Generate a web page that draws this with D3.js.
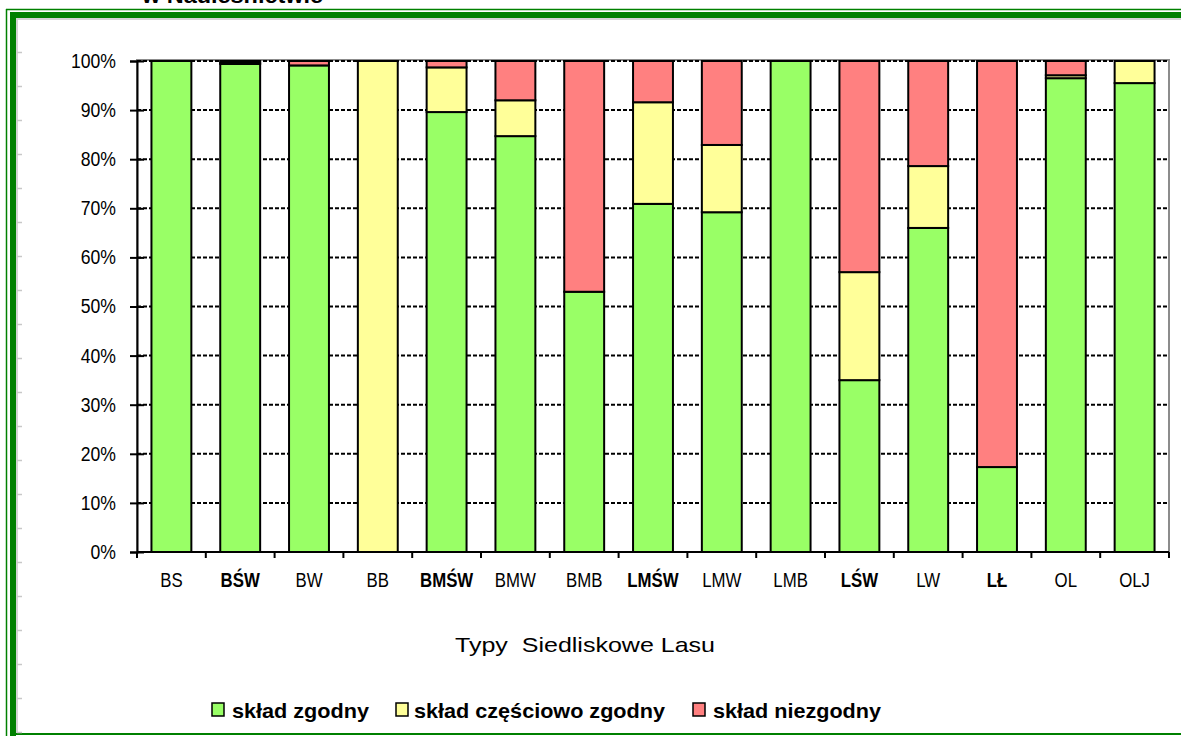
<!DOCTYPE html>
<html><head><meta charset="utf-8">
<script src="https://cdn.jsdelivr.net/npm/d3@7"></script>
<style>html,body{margin:0;padding:0;background:#fff;}svg{display:block;}</style>
</head><body>
<svg id="c" width="1181" height="736"></svg>
<script>
const categories = ["BS","BŚW","BW","BB","BMŚW","BMW","BMB","LMŚW","LMW","LMB","LŚW","LW","LŁ","OL","OLJ"];
const boldCats = ["BŚW","BMŚW","LMŚW","LŚW","LŁ"];
const zgodny     = [100, 99.4, 99.1, 0,   89.6, 84.7, 53.0, 70.9, 69.2, 100, 35.0, 66.0, 17.3, 96.5, 95.5];
const czesciowo  = [0,   0.3,  0,    100, 9.1,  7.3,  0,    20.7, 13.7, 0,   22.0, 12.6, 0,    0.6,  4.5];
const niezgodny  = [0,   0.3,  0.9,  0,   1.3,  8.0,  47.0, 8.4,  17.1, 0,   43.0, 21.4, 82.7, 2.9,  0];
const seriesNames = ["skład zgodny","skład częściowo zgodny","skład niezgodny"];
const seriesColors = ["#99FF66","#FFFF99","#FF8080"];
const yTicks = [0,10,20,30,40,50,60,70,80,90,100];
const xTitle = "Typy  Siedliskowe Lasu";
const topTitle = "w Nadleśnictwie";

const svg = d3.select("#c");
const L=137, R=1169, T=61, B=552;
const font = "'Liberation Sans', Arial, sans-serif";

function squeeze(sel, f){
  sel.each(function(){
    const w = this.getComputedTextLength();
    d3.select(this).attr("textLength", w*f).attr("lengthAdjust","spacingAndGlyphs");
  });
}
function fitTo(sel, w){
  sel.attr("textLength", w).attr("lengthAdjust","spacingAndGlyphs");
}

// frame
const green="#008000";
svg.append("line").attr("x1",6.5).attr("x2",6.5).attr("y1",9).attr("y2",736).attr("stroke",green).attr("stroke-width",1.5);
svg.append("line").attr("x1",6).attr("x2",1181).attr("y1",9.5).attr("y2",9.5).attr("stroke",green).attr("stroke-width",1.5);
svg.append("rect").attr("x",10).attr("y",12).attr("width",6).attr("height",724).attr("fill",green);
svg.append("rect").attr("x",10).attr("y",12).attr("width",1171).attr("height",6).attr("fill",green);
svg.append("rect").attr("x",16).attr("y",18).attr("width",2).attr("height",716).attr("fill","#d4d4d4");
svg.append("rect").attr("x",16).attr("y",18).attr("width",1165).attr("height",2).attr("fill","#d4d4d4");
svg.append("rect").attr("x",16).attr("y",733).attr("width",1165).attr("height",2).attr("fill",green);
for(let yy=52;yy<733;yy+=34){
  svg.append("line").attr("x1",17).attr("x2",22).attr("y1",yy+0.5).attr("y2",yy+0.5).attr("stroke","#c8c8c8").attr("stroke-width",1.5);
}
const tt = svg.append("text").attr("x",142).attr("y",3).attr("font-family",font).attr("font-weight","bold").attr("font-size",22).text(topTitle);
fitTo(tt,181);

const x = d3.scaleBand().domain(categories).range([L,R]).paddingInner(0.42).paddingOuter(0.21);
const xb = d3.scaleBand().domain(categories).range([L,R]);
const y = d3.scaleLinear().domain([0,100]).range([B,T]);

// plot area border
svg.append("rect").attr("x",L).attr("y",T-1).attr("width",R-L).attr("height",B-T+1).attr("fill","none").attr("stroke","#8c8c8c").attr("stroke-width",2);

// gridlines
svg.append("g").selectAll("line").data(yTicks.filter(d=>d>0)).join("line")
  .attr("x1",L).attr("x2",R).attr("y1",d=>y(d)).attr("y2",d=>y(d))
  .attr("stroke","#000").attr("stroke-width",2).attr("stroke-dasharray","4,2");

// stacked bars
const rows = categories.map((c,i)=>({cat:c, v:[zgodny[i],czesciowo[i],niezgodny[i]]}));
const stacked = d3.stack().keys([0,1,2]).value((d,k)=>d.v[k])(rows);
stacked.forEach((s,si)=>{
  svg.append("g").selectAll("rect").data(s.filter(d=>d[1]-d[0]>0)).join("rect")
    .attr("x",d=>x(d.data.cat)).attr("width",x.bandwidth())
    .attr("y",d=>y(d[1])).attr("height",d=>y(d[0])-y(d[1]))
    .attr("fill",seriesColors[si]).attr("stroke","#000").attr("stroke-width",2);
});

// y axis
const ya = svg.append("g").attr("transform",`translate(${L},0)`)
  .call(d3.axisLeft(y).tickValues(yTicks).tickFormat(d=>d+"%").tickSize(7).tickPadding(14));
ya.select(".domain").attr("stroke","#000").attr("stroke-width",2);
ya.selectAll(".tick line").attr("x1",-7).attr("x2",7).attr("stroke","#000").attr("stroke-width",2);
const yl = ya.selectAll("text").attr("font-family",font).attr("font-size",20).attr("fill","#000").attr("x",-21);
squeeze(yl,0.88);

// x axis
svg.append("line").attr("x1",L).attr("x2",R).attr("y1",B).attr("y2",B).attr("stroke","#000").attr("stroke-width",2);
const bounds = categories.map(c=>xb(c)).concat([R]);
svg.append("g").selectAll("line").data(bounds).join("line")
  .attr("x1",d=>d).attr("x2",d=>d).attr("y1",B).attr("y2",B+6).attr("stroke","#000").attr("stroke-width",2);
const xl = svg.append("g").selectAll("text").data(categories).join("text")
  .attr("x",d=>xb(d)+xb.bandwidth()/2).attr("y",B+35).attr("text-anchor","middle")
  .attr("font-family",font).attr("font-size",20).attr("font-weight",d=>boldCats.includes(d)?"bold":"normal")
  .text(d=>d);
squeeze(xl,0.84);

const xt = svg.append("text").attr("x",585).attr("y",652).attr("text-anchor","middle")
  .attr("font-family",font).attr("font-size",21).style("white-space","pre").text(xTitle);
fitTo(xt,260);

// legend
const legSq = [212, 396, 693];
const legTx = [232, 414, 713];
const legW = [137, 251, 168];
const lg = svg.append("g");
seriesNames.forEach((n,i)=>{
  lg.append("rect").attr("x",legSq[i]).attr("y",703).attr("width",12).attr("height",13)
    .attr("fill",seriesColors[i]).attr("stroke","#000").attr("stroke-width",1.5);
  const t = lg.append("text").attr("x",legTx[i]).attr("y",718).attr("font-family",font).attr("font-weight","bold")
    .attr("font-size",21).text(n);
  fitTo(t, legW[i]);
});
</script>
</body></html>
